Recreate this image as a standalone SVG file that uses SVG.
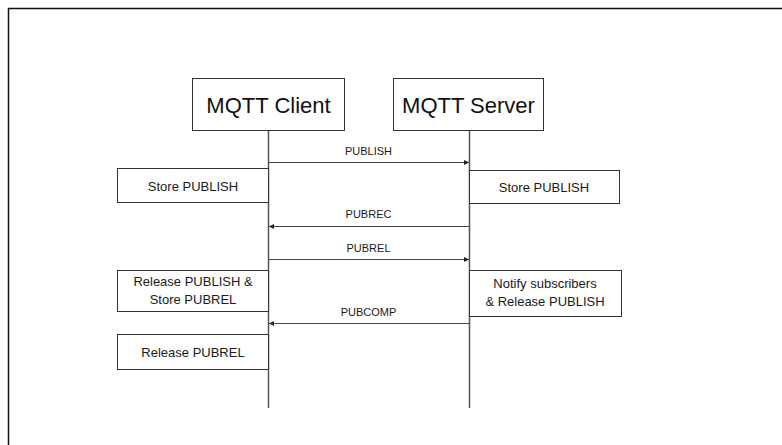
<svg xmlns="http://www.w3.org/2000/svg" width="782" height="445" viewBox="0 0 782 445">
  <style>
    .frame { fill: none; stroke: #111; stroke-width: 1.5; }
    .box { fill: #fff; stroke: #333; stroke-width: 1; }
    .life { stroke: #555; stroke-width: 1.5; fill: none; }
    .msg { stroke: #444; stroke-width: 1.2; fill: none; marker-end: url(#head); }
    .title { font-family: "Liberation Sans", Arial, sans-serif; font-size: 22px; fill: #111; text-anchor: middle; }
    .note { font-family: "Liberation Sans", Arial, sans-serif; font-size: 13px; fill: #1a1a1a; text-anchor: middle; }
    .label { font-family: "Liberation Sans", Arial, sans-serif; font-size: 11px; fill: #1a1a1a; text-anchor: middle; }
  </style>
  <defs>
    <marker id="head" viewBox="0 0 6 6" refX="6" refY="3" markerWidth="5" markerHeight="5" orient="auto" markerUnits="userSpaceOnUse">
      <path d="M0,0 L6,3 L0,6 Z" fill="#222"/>
    </marker>
  </defs>

  <rect width="782" height="445" fill="#fff"/>
  <rect class="frame" x="8.5" y="8.5" width="800" height="460"/>

  <!-- lifelines -->
  <g id="lifelines">
    <line class="life" x1="268.5" y1="130" x2="268.5" y2="408"/>
    <line class="life" x1="469.5" y1="130" x2="469.5" y2="408"/>
  </g>

  <g id="client">
    <rect class="box" x="192.5" y="78.5" width="152" height="52"/>
    <text class="title" x="268.5" y="113">MQTT Client</text>
  </g>
  <g id="server">
    <rect class="box" x="393.5" y="78.5" width="150" height="52"/>
    <text class="title" x="468.5" y="113">MQTT Server</text>
  </g>

  <g id="client-store">
    <rect class="box" x="117.5" y="168.5" width="151" height="34"/>
    <text class="note" x="193" y="190.5">Store PUBLISH</text>
  </g>
  <g id="server-store">
    <rect class="box" x="469.5" y="170.5" width="150" height="33"/>
    <text class="note" x="544" y="191.5">Store PUBLISH</text>
  </g>
  <g id="client-release-store">
    <rect class="box" x="117.5" y="270.5" width="151" height="41"/>
    <text class="note" x="193" y="286">Release PUBLISH &amp;</text>
    <text class="note" x="193" y="303.5">Store PUBREL</text>
  </g>
  <g id="server-notify">
    <rect class="box" x="469.5" y="270.5" width="152" height="46"/>
    <text class="note" x="545" y="288">Notify subscribers</text>
    <text class="note" x="545" y="306">&amp; Release PUBLISH</text>
  </g>
  <g id="client-release">
    <rect class="box" x="117.5" y="334.5" width="151" height="35"/>
    <text class="note" x="193" y="356.5">Release PUBREL</text>
  </g>

  <!-- messages -->
  <g id="connectors">
    <line class="msg" x1="269" y1="162.5" x2="469" y2="162.5"/>
    <line class="msg" x1="469" y1="226.5" x2="269" y2="226.5"/>
    <line class="msg" x1="269" y1="259.5" x2="469" y2="259.5"/>
    <line class="msg" x1="469" y1="323.5" x2="269" y2="323.5"/>
    <text class="label" x="368.5" y="155">PUBLISH</text>
    <text class="label" x="368.5" y="218">PUBREC</text>
    <text class="label" x="368.5" y="252">PUBREL</text>
    <text class="label" x="368.5" y="316">PUBCOMP</text>
  </g>
</svg>
